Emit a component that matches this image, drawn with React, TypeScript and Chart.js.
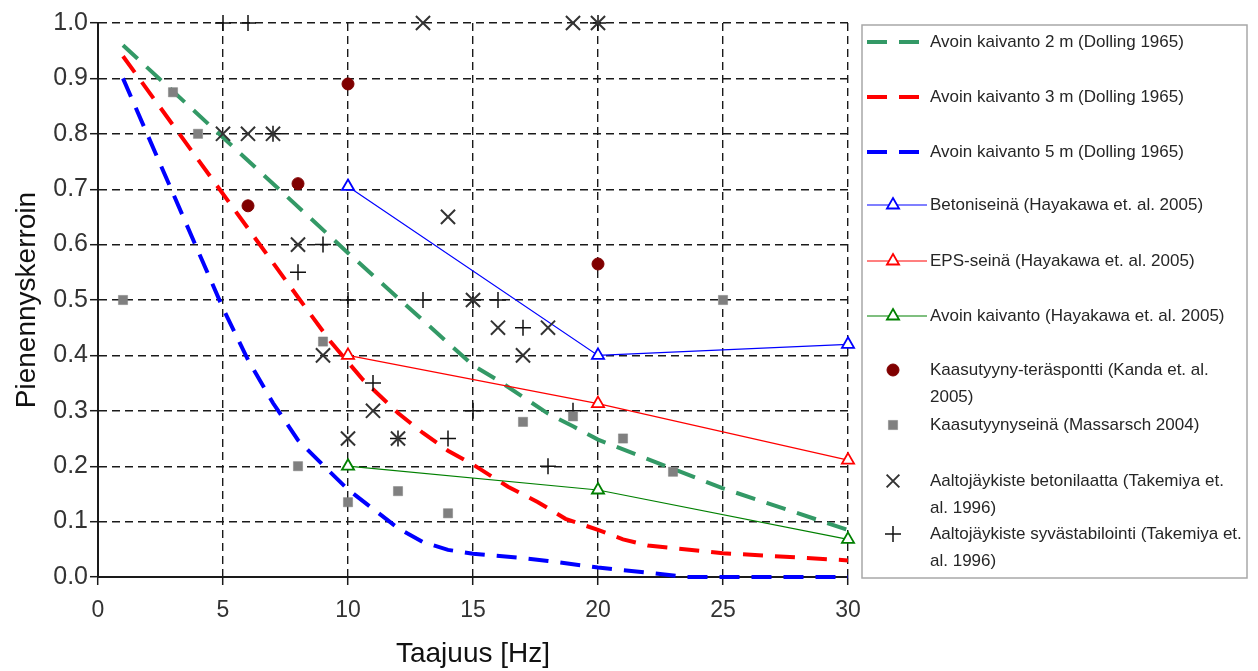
import React, { useEffect, useRef } from 'react';
import { Chart, registerables } from 'chart.js';
import { drawPoint } from 'chart.js/helpers';

Chart.register(...registerables);

const FONT = '"Liberation Sans", Arial, sans-serif';

// Dolling 1965 curves
const dolling2X = [1, 10, 15, 16, 17, 18, 19, 20, 25, 30];
const dolling2Y = [0.96, 0.585, 0.382, 0.355, 0.325, 0.295, 0.272, 0.248, 0.16, 0.085];
const dolling3X = [1, 8, 9.3, 10.6, 12, 13, 14, 15, 16.4, 17.6, 18.7, 20, 21, 22, 25, 30];
const dolling3Y = [0.94, 0.505, 0.425, 0.356, 0.296, 0.26, 0.228, 0.203, 0.163, 0.135, 0.105, 0.085, 0.068, 0.057, 0.043, 0.03];
const dolling5X = [1, 5, 6, 7, 8, 9, 10, 11, 12, 13, 14, 15, 17, 18, 20, 22, 23.5, 30];
const dolling5Y = [0.9, 0.485, 0.392, 0.314, 0.247, 0.202, 0.158, 0.123, 0.088, 0.063, 0.049, 0.042, 0.034, 0.029, 0.017, 0.008, 0, 0];

// Hayakawa 2005
const hayakawaX = [10, 20, 30];
const betoniY = [0.705, 0.4, 0.42];
const epsY = [0.4, 0.313, 0.211];
const avoinY = [0.2, 0.157, 0.068];

// Kanda 2005
const kandaX = [6, 8, 10, 20];
const kandaY = [0.67, 0.71, 0.89, 0.565];

// Massarsch 2004
const massarschX = [1, 3, 4, 8, 9, 10, 12, 14, 17, 19, 21, 23, 25];
const massarschY = [0.5, 0.875, 0.8, 0.2, 0.425, 0.135, 0.155, 0.115, 0.28, 0.29, 0.25, 0.19, 0.5];

// Takemiya 1996
const betonilaattaX = [5, 6, 7, 8, 9, 10, 11, 12, 13, 14, 15, 16, 17, 18, 19, 20];
const betonilaattaY = [0.8, 0.8, 0.8, 0.6, 0.4, 0.25, 0.3, 0.25, 1.0, 0.65, 0.5, 0.45, 0.4, 0.45, 1.0, 1.0];
const syvaX = [5, 6, 7, 8, 9, 10, 11, 12, 13, 14, 15, 15, 16, 17, 18, 19, 20];
const syvaY = [1.0, 1.0, 0.8, 0.55, 0.6, 0.5, 0.35, 0.25, 0.5, 0.25, 0.5, 0.3, 0.5, 0.45, 0.2, 0.3, 1.0];

const labels = [
  'Avoin kaivanto 2 m (Dolling 1965)',
  'Avoin kaivanto 3 m (Dolling 1965)',
  'Avoin kaivanto 5 m (Dolling 1965)',
  'Betoniseinä (Hayakawa et. al. 2005)',
  'EPS-seinä (Hayakawa et. al. 2005)',
  'Avoin kaivanto (Hayakawa et. al. 2005)',
  'Kaasutyyny-teräspontti (Kanda et. al.\n2005)',
  'Kaasutyynyseinä (Massarsch 2004)',
  'Aaltojäykiste betonilaatta (Takemiya et.\nal. 1996)',
  'Aaltojäykiste syvästabilointi (Takemiya et.\nal. 1996)',
];

const xTitle = 'Taajuus [Hz]';
const yTitle = 'Pienennyskerroin';

const pts = (xs: number[], ys: number[]) => xs.map((x, i) => ({ x, y: ys[i] }));

const legendPlugin = {
  id: 'boxLegend',
  afterDraw(chart: any) {
    const ctx = chart.ctx as CanvasRenderingContext2D;
    const bx = 862, by = 25, bw = 385, bh = 553;
    const rows = [42, 97, 152, 205, 261, 316, 370, 425, 481, 534];
    ctx.save();
    ctx.fillStyle = '#ffffff';
    ctx.fillRect(bx, by, bw, bh);
    ctx.strokeStyle = '#a8a8a8';
    ctx.lineWidth = 1.5;
    ctx.strokeRect(bx, by, bw, bh);
    chart.data.datasets.forEach((ds: any, i: number) => {
      const y = rows[i];
      const sx = 893;
      if (ds.showLine) {
        ctx.save();
        ctx.strokeStyle = ds.borderColor;
        ctx.lineWidth = ds.borderWidth;
        ctx.setLineDash(ds.borderDash || []);
        ctx.beginPath();
        ctx.moveTo(867, y);
        ctx.lineTo(927, y);
        ctx.stroke();
        ctx.restore();
      }
      if (ds.pointRadius > 0) {
        ctx.save();
        ctx.fillStyle = ds.pointBackgroundColor;
        ctx.strokeStyle = ds.pointBorderColor;
        ctx.lineWidth = ds.pointBorderWidth;
        const r = ds.pointStyle === 'crossRot' ? 9 : ds.pointRadius;
        drawPoint(ctx, { pointStyle: ds.pointStyle, radius: r, rotation: 0, borderWidth: ds.pointBorderWidth } as any, sx, y);
        ctx.restore();
      }
      ctx.fillStyle = '#262626';
      ctx.font = `17px ${FONT}`;
      ctx.textBaseline = 'middle';
      ctx.textAlign = 'left';
      String(ds.label).split('\n').forEach((line, k) => {
        ctx.fillText(line, 930, y + k * 27);
      });
    });
    ctx.restore();
  },
};

export default function App() {
  const ref = useRef<HTMLCanvasElement | null>(null);
  useEffect(() => {
    if (!ref.current) return;
    const dashed = (label: string, color: string, xs: number[], ys: number[]) => ({
      label, data: pts(xs, ys), showLine: true, borderColor: color, backgroundColor: color,
      borderWidth: 4, borderDash: [20, 12], pointRadius: 0, pointHoverRadius: 0, tension: 0, order: 5, clip: false,
    });
    const tri = (label: string, color: string, ys: number[]) => ({
      label, data: pts(hayakawaX, ys), showLine: true, borderColor: color, backgroundColor: '#ffffff',
      borderWidth: 1.2, pointStyle: 'triangle', pointRadius: 7, pointBackgroundColor: '#ffffff',
      pointBorderColor: color, pointBorderWidth: 1.8, tension: 0, order: 3, clip: false,
    });
    const chart = new Chart(ref.current, {
      type: 'scatter',
      data: {
        datasets: [
          dashed(labels[0], '#339966', dolling2X, dolling2Y),
          dashed(labels[1], '#ff0000', dolling3X, dolling3Y),
          dashed(labels[2], '#0000ff', dolling5X, dolling5Y),
          tri(labels[3], '#0000ff', betoniY),
          tri(labels[4], '#ff0000', epsY),
          tri(labels[5], '#008000', avoinY),
          {
            label: labels[6], data: pts(kandaX, kandaY), showLine: false, pointStyle: 'circle', pointRadius: 6,
            pointBackgroundColor: '#800000', pointBorderColor: '#800000', pointBorderWidth: 1, order: 1, clip: false,
          },
          {
            label: labels[7], data: pts(massarschX, massarschY), showLine: false, pointStyle: 'rect', pointRadius: 6.5,
            pointBackgroundColor: '#808080', pointBorderColor: '#808080', pointBorderWidth: 0.5, order: 1, clip: false,
          },
          {
            label: labels[8], data: pts(betonilaattaX, betonilaattaY), showLine: false, pointStyle: 'crossRot', pointRadius: 10,
            pointBackgroundColor: '#333333', pointBorderColor: '#333333', pointBorderWidth: 2, order: 1, clip: false,
          },
          {
            label: labels[9], data: pts(syvaX, syvaY), showLine: false, pointStyle: 'cross', pointRadius: 8,
            pointBackgroundColor: '#111111', pointBorderColor: '#111111', pointBorderWidth: 1.5, order: 1, clip: false,
          },
        ] as any,
      },
      options: {
        responsive: false,
        animation: false,
        layout: { padding: { left: 0, right: 410, top: 23, bottom: 0 } },
        plugins: { legend: { display: false }, tooltip: { enabled: false } },
        scales: {
          x: {
            type: 'linear', min: 0, max: 30,
            ticks: { stepSize: 5, font: { family: FONT, size: 23 }, color: '#333333', padding: 12 },
            grid: { color: '#1a1a1a', lineWidth: 1.4, tickLength: 8, tickColor: '#1a1a1a', tickWidth: 1.5, tickBorderDash: [] },
            border: { display: true, color: '#1a1a1a', width: 2, dash: [8, 5] },
            title: { display: true, text: xTitle, font: { family: FONT, size: 28 }, color: '#111111', padding: { top: 0, bottom: 0 } },
            afterFit: (s: any) => { s.height = 94; },
          },
          y: {
            type: 'linear', min: 0, max: 1,
            ticks: { stepSize: 0.1, font: { family: FONT, size: 25 }, color: '#333333', padding: 2,
              callback: (v: any) => Number(v).toFixed(1) },
            grid: { color: '#1a1a1a', lineWidth: 1.4, tickLength: 8, tickColor: '#1a1a1a', tickWidth: 1.5, tickBorderDash: [] },
            border: { display: true, color: '#1a1a1a', width: 2, dash: [8, 5] },
            title: { display: true, text: yTitle, font: { family: FONT, size: 28 }, color: '#111111', padding: { top: 10, bottom: 0 } },
            afterFit: (s: any) => { s.width = 98; },
          },
        },
      } as any,
      plugins: [legendPlugin],
    });
    return () => chart.destroy();
  }, []);
  return (
    <div style={{ position: 'absolute', left: 0, top: 0, width: 1258, height: 671, background: '#fff' }}>
      <canvas ref={ref} width={1258} height={671} />
    </div>
  );
}
